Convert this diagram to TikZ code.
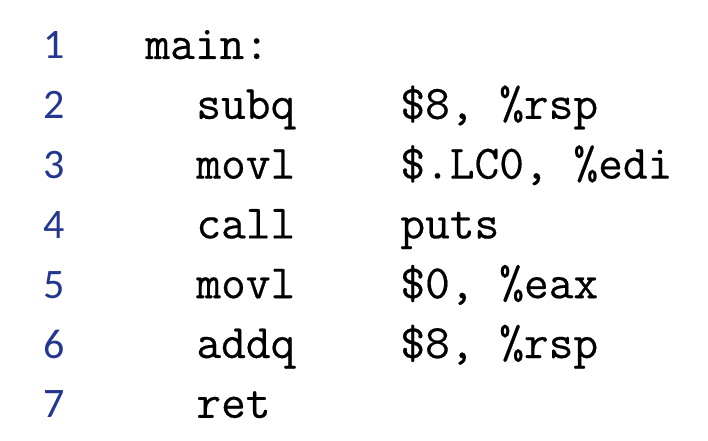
\documentclass[tikz,border=0pt]{standalone}
\usepackage{fontspec}
\setmonofont{Latin Modern Mono}[FakeBold=0.4]
\newfontfamily\numfont{Carlito}
\definecolor{numblue}{RGB}{35,55,145}
\tikzstyle{lineno}=[numblue,font=\numfont\fontsize{21}{21}\selectfont,anchor=base,inner sep=0pt]
\tikzstyle{code}  =[black,font=\ttfamily\fontsize{24}{24}\selectfont,anchor=base west,inner sep=0pt]

\begin{document}
\begin{tikzpicture}[x=1pt,y=1pt]
  \useasboundingbox (0,0) rectangle (354,220);
  \def\top{190.5} % baseline of line 1
  \def\skip{29.9} % line distance

  % line numbers
  \foreach \i in {1,...,7}
    \node[lineno] (n\i) at (27,{\top-\skip*(\i-1)}) {\i};

  % label
  \node[code] (lbl) at (72.5,\top) {main:};

  % instructions: mnemonic and operands
  \foreach \i/\op/\arg in {2/subq/{\$8, \%rsp},
                           3/movl/{\$.LC0, \%edi},
                           4/call/{puts},
                           5/movl/{\$0, \%eax},
                           6/addq/{\$8, \%rsp}}{
    \node[code] (op\i)  at (98,{\top-\skip*(\i-1)}) {\op};
    \node[code] (arg\i) at (200,{\top-\skip*(\i-1)}) {\arg};
  }
  \node[code] (op7) at (98,{\top-\skip*6}) {ret};
\end{tikzpicture}
\end{document}
